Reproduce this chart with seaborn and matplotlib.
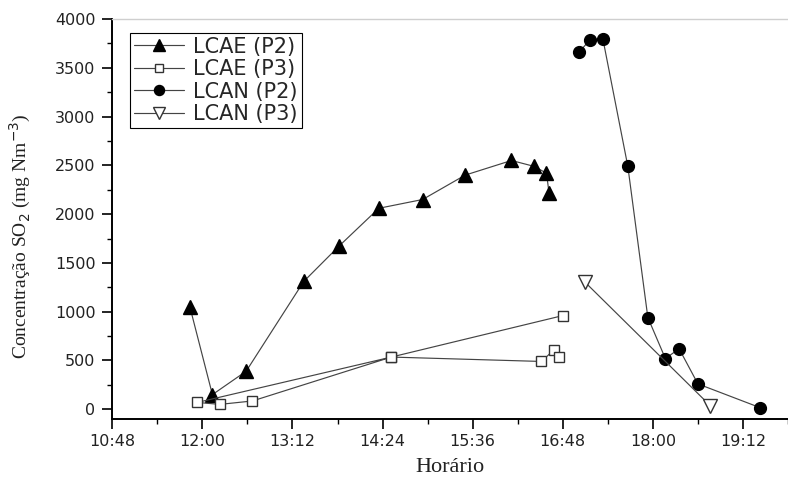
import matplotlib
matplotlib.use("Agg")
import matplotlib.pyplot as plt
import seaborn as sns
import pandas as pd

# ---- data (time in minutes after midnight, concentration in mg Nm-3) ----
lcae_p2_time = [710, 728, 755, 801, 829, 861, 896, 930, 967, 985, 995, 997]
lcae_p2_conc = [1050, 150, 390, 1310, 1670, 2060, 2150, 2400, 2550, 2490, 2420, 2220]

lcae_p3_time = [1008, 871, 716, 734, 760, 871, 991, 1001, 1005]
lcae_p3_conc = [960, 535, 70, 50, 85, 535, 490, 610, 535]

lcan_p2_time = [1021, 1030, 1040, 1060, 1076, 1090, 1101, 1116, 1166]
lcan_p2_conc = [3660, 3790, 3800, 2490, 940, 520, 620, 260, 15]

lcan_p3_time = [1026, 1126]
lcan_p3_conc = [1300, 35]

x_tick_minutes = [648, 720, 792, 864, 936, 1008, 1080, 1152]
x_tick_labels = ["10:48", "12:00", "13:12", "14:24", "15:36", "16:48", "18:00", "19:12"]
y_ticks = [0, 500, 1000, 1500, 2000, 2500, 3000, 3500, 4000]

series_names = ["LCAE (P2)", "LCAE (P3)", "LCAN (P2)", "LCAN (P3)"]

sns.set_theme(style="ticks")
plt.rcParams["font.family"] = ["DejaVu Sans"]

fig = plt.figure(figsize=(7.88, 4.78), dpi=100)
ax = fig.add_axes([0.1425, 0.1234, 0.8575, 0.8368])

line_color = "#444444"
styles = [
    dict(marker="^", markersize=10, markerfacecolor="black", markeredgecolor="black"),
    dict(marker="s", markersize=7.5, markerfacecolor="white", markeredgecolor="#333333"),
    dict(marker="o", markersize=8.5, markerfacecolor="black", markeredgecolor="black"),
    dict(marker="v", markersize=10, markerfacecolor="white", markeredgecolor="#333333"),
]
datasets = [
    (lcae_p2_time, lcae_p2_conc),
    (lcae_p3_time, lcae_p3_conc),
    (lcan_p2_time, lcan_p2_conc),
    (lcan_p3_time, lcan_p3_conc),
]

for (t, c), name, st in zip(datasets, series_names, styles):
    df = pd.DataFrame({"t": t, "c": c})
    sns.lineplot(data=df, x="t", y="c", ax=ax, sort=False, estimator=None,
                 color=line_color, linewidth=0.85, markeredgewidth=1.0,
                 label=name, **st)

ax.set_xlim(648, 1183)
ax.set_ylim(-100, 4000)

ax.set_xticks(x_tick_minutes)
ax.set_xticklabels(x_tick_labels)
ax.set_xticks([m + 36 for m in x_tick_minutes], minor=True)
ax.set_yticks(y_ticks)
ax.set_yticklabels([str(v) for v in y_ticks])
ax.set_yticks([v + 250 for v in y_ticks[:-1]], minor=True)

ax.tick_params(axis="both", which="major", direction="out", length=7, width=1.2,
               labelsize=11.5, colors="black", labelcolor="#222222")
ax.tick_params(axis="x", which="major", pad=4)
ax.tick_params(axis="y", which="major", pad=5)
ax.tick_params(axis="both", which="minor", direction="out", length=3.5, width=1.0,
               colors="black")

for s in ["left", "bottom"]:
    ax.spines[s].set_linewidth(1.4)
    ax.spines[s].set_color("black")
ax.spines["right"].set_visible(False)
ax.spines["top"].set_color("#cfcfcf")
ax.spines["top"].set_linewidth(1.0)

ax.set_xlabel("Horário", family="Liberation Serif", fontsize=16, labelpad=6, color="#222222")
ax.set_ylabel(r"Concentração SO$_2$ (mg Nm$^{-3}$)", family="Liberation Serif",
              fontsize=14, color="#222222")
ax.yaxis.set_label_coords(-0.117, 0.4575)

leg = ax.legend(loc="upper left", bbox_to_anchor=(0.026, 0.966), borderaxespad=0,
                fontsize=15, frameon=True, fancybox=False, edgecolor="black",
                framealpha=1, handlelength=2.4, handletextpad=0.45,
                labelspacing=0.12, borderpad=0.2, markerscale=0.85)
leg.get_frame().set_linewidth(0.8)

fig.savefig("out.png", dpi=100)
